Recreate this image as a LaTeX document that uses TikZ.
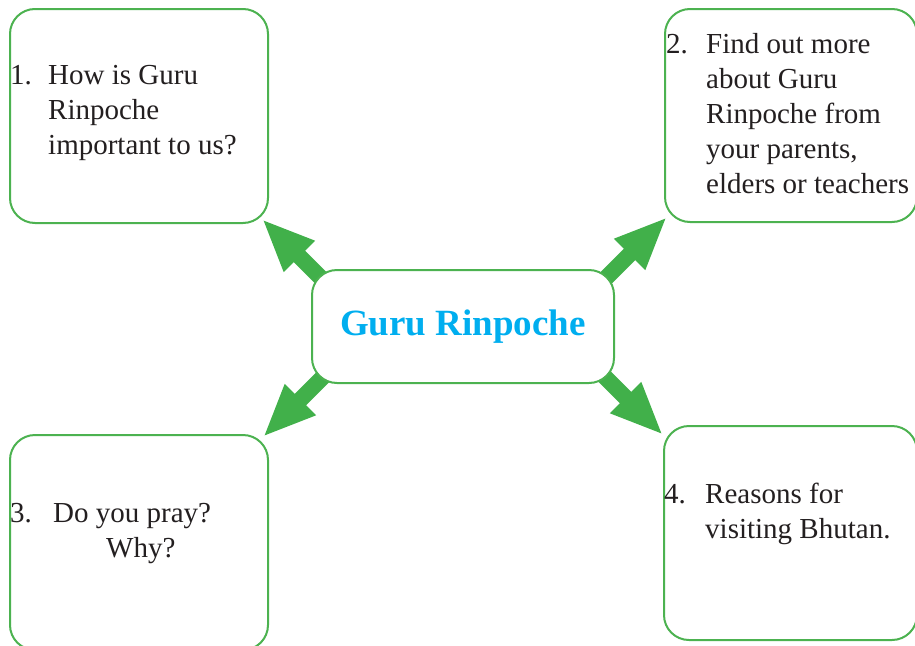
\documentclass[tikz,border=0pt]{standalone}
\usepackage{fontspec}
\setmainfont{Liberation Serif}
\usetikzlibrary{arrows.meta}
\definecolor{gline}{RGB}{76,178,80}
\definecolor{garrow}{RGB}{65,176,74}
\definecolor{gtitle}{RGB}{0,174,239}
\definecolor{gtext}{RGB}{35,31,32}
\tikzset{
  gbox/.style={draw=gline, line width=2pt, rounded corners=25pt, fill=white, inner sep=0pt},
  txt/.style={anchor=base west, inner sep=0pt, text=gtext, font=\fontsize{29}{35}\selectfont},
  bigarrow/.style={draw=garrow, line width=16pt, -{Triangle[width=40pt,length=53pt]}},
}
\begin{document}
\begin{tikzpicture}[x=1pt,y=-1pt]
\useasboundingbox (0,0) rectangle (915,645);
% outer boxes
\node[gbox, minimum width=258pt, minimum height=214pt] (b1) at (139,116) {};
\node[gbox, minimum width=252pt, minimum height=213pt] (b2) at (791,115.5) {};
\node[gbox, minimum width=258pt, minimum height=215pt] (b3) at (139,542.5) {};
\node[gbox, minimum width=253pt, minimum height=214pt] (b4) at (790.5,533) {};
% arrow endpoints
\coordinate (t1) at (324,281); \coordinate (h1) at (262,219);
\coordinate (t2) at (605,279); \coordinate (h2) at (667,217);
\coordinate (t3) at (325,375); \coordinate (h3) at (263,437);
\coordinate (t4) at (601,373); \coordinate (h4) at (663,435);
\draw[bigarrow] (t1) -- (h1);
\draw[bigarrow] (t2) -- (h2);
\draw[bigarrow] (t3) -- (h3);
\draw[bigarrow] (t4) -- (h4);
% centre box
\node[gbox, minimum width=302pt, minimum height=113pt] (c) at (463,326.5) {};
\node[text=gtitle, font=\fontsize{37}{44}\selectfont\bfseries, inner sep=0pt] (ct) at (c.center) {Guru Rinpoche};
% texts
\node[txt] (n1) at (10,84) {1.};
\node[txt] (l11) at (48,84) {How is Guru};
\node[txt] (l12) at (48,119) {Rinpoche};
\node[txt] (l13) at (48,154) {important to us?};
\node[txt] (n2) at (666,53) {2.};
\node[txt] (l21) at (706,53) {Find out more};
\node[txt] (l22) at (706,88) {about Guru};
\node[txt] (l23) at (706,123) {Rinpoche from};
\node[txt] (l24) at (706,158) {your parents,};
\node[txt] (l25) at (706,193) {elders or teachers};
\node[txt] (n3) at (10,522) {3.};
\node[txt] (l31) at (53,522) {Do you pray?};
\node[txt] (l32) at (106,557) {Why?};
\node[txt] (n4) at (664,503) {4.};
\node[txt] (l41) at (705,503) {Reasons for};
\node[txt] (l42) at (705,538) {visiting Bhutan.};
\end{tikzpicture}
\end{document}
